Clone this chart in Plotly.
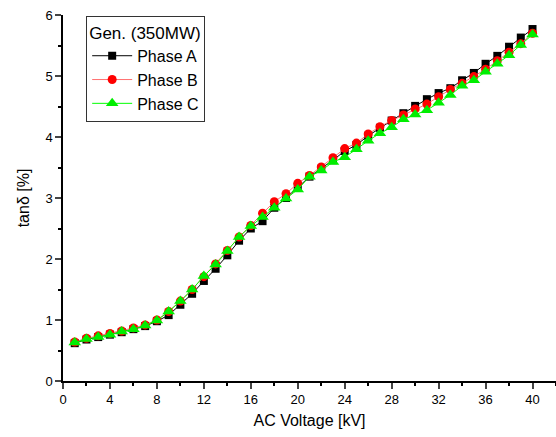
import plotly.graph_objects as go

voltage_kv = list(range(1, 41))

phase_a = [0.62, 0.68, 0.72, 0.76, 0.80, 0.85, 0.90, 0.98, 1.08, 1.25,
           1.43, 1.64, 1.84, 2.06, 2.30, 2.50, 2.62, 2.84, 3.00, 3.17,
           3.35, 3.48, 3.62, 3.77, 3.87, 4.02, 4.15, 4.27, 4.39, 4.51,
           4.62, 4.72, 4.80, 4.93, 5.05, 5.20, 5.33, 5.48, 5.63, 5.77]

phase_b = [0.64, 0.70, 0.74, 0.78, 0.82, 0.87, 0.92, 1.00, 1.14, 1.31,
           1.50, 1.71, 1.92, 2.14, 2.36, 2.55, 2.75, 2.94, 3.07, 3.24,
           3.37, 3.51, 3.66, 3.81, 3.90, 4.05, 4.17, 4.27, 4.36, 4.46,
           4.54, 4.66, 4.78, 4.88, 4.99, 5.11, 5.25, 5.39, 5.53, 5.70]

phase_c = [0.63, 0.69, 0.72, 0.76, 0.81, 0.85, 0.91, 0.99, 1.14, 1.31,
           1.50, 1.72, 1.91, 2.13, 2.36, 2.54, 2.69, 2.84, 2.99, 3.14,
           3.35, 3.45, 3.59, 3.67, 3.80, 3.94, 4.06, 4.16, 4.29, 4.37,
           4.44, 4.56, 4.69, 4.84, 4.93, 5.07, 5.20, 5.34, 5.51, 5.68]

x_ticks = [0, 4, 8, 12, 16, 20, 24, 28, 32, 36, 40]
y_ticks = [0, 1, 2, 3, 4, 5, 6]

FONT = "Arial, Liberation Sans, sans-serif"

fig = go.Figure()
fig.add_trace(go.Scatter(
    x=voltage_kv, y=phase_a, name="Phase A", mode="lines+markers",
    line=dict(color="black", width=1),
    marker=dict(symbol="square", size=8, color="black")))
fig.add_trace(go.Scatter(
    x=voltage_kv, y=phase_b, name="Phase B", mode="lines+markers",
    line=dict(color="#ff7070", width=1),
    marker=dict(symbol="circle", size=9, color="red")))
fig.add_trace(go.Scatter(
    x=voltage_kv, y=phase_c, name="Phase C", mode="lines+markers",
    line=dict(color="#00ff00", width=1),
    marker=dict(symbol="triangle-up", size=11, color="#00ee00")))

fig.update_layout(
    width=556, height=437,
    margin=dict(l=63, r=0, t=15, b=56, autoexpand=False),
    plot_bgcolor="white", paper_bgcolor="white",
    font=dict(family=FONT, color="black", size=13),
    legend=dict(
        x=0.047, y=0.998, xanchor="left", yanchor="top",
        bgcolor="white", bordercolor="#333", borderwidth=1,
        font=dict(size=16, family=FONT),
        title=dict(text="Gen. (350MW)", side="top", font=dict(size=17, family=FONT)),
        tracegroupgap=0, itemwidth=40),
    xaxis=dict(
        range=[0, 42], tickvals=x_ticks, ticks="outside", ticklen=6, tickwidth=1.5,
        showline=True, linecolor="black", linewidth=1.5, showgrid=False, zeroline=False,
        tickfont=dict(size=13), automargin=False,
        minor=dict(dtick=2, tick0=0, ticks="outside", ticklen=3, tickwidth=1.5, tickcolor="black"),
        title=dict(text="AC Voltage [kV]", font=dict(size=16), standoff=8)),
    yaxis=dict(
        range=[0, 6], tickvals=y_ticks, ticks="outside", ticklen=6, tickwidth=1.5,
        showline=True, linecolor="black", linewidth=1.5, showgrid=False, zeroline=False,
        tickfont=dict(size=13), automargin=False,
        minor=dict(dtick=0.5, tick0=0, ticks="outside", ticklen=3, tickwidth=1.5, tickcolor="black"),
        title=dict(text="tanδ [%]", font=dict(size=16), standoff=12)),
)

fig.write_html("out.html", config={"displayModeBar": False},
               post_script="document.body.style.margin='0';")
